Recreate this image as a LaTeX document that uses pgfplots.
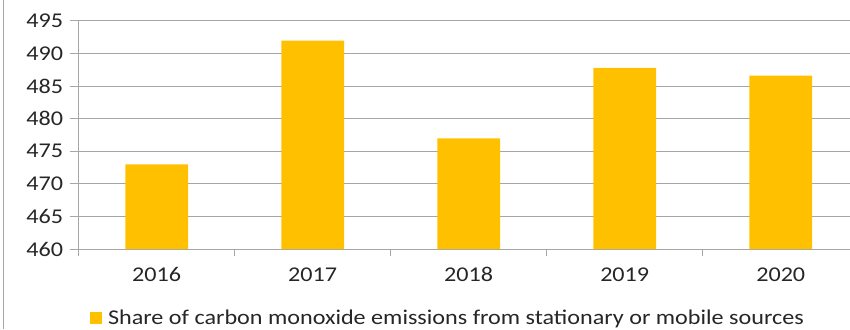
\documentclass[border=0pt]{standalone}
\usepackage{pgfplots}
\pgfplotsset{compat=1.18}
\usepackage{fontspec}
\setmainfont{Carlito}[FakeStretch=1.15]
\definecolor{barc}{HTML}{FFC000}
\definecolor{gridc}{HTML}{A6A6A6}
\definecolor{txt}{HTML}{262626}
\begin{document}
\begin{tikzpicture}[x=1pt,y=1pt]
\useasboundingbox (0,0) rectangle (850,329);
\draw[gridc, line width=1pt] (3,0) -- (3,329);
\begin{axis}[
 at={(78.7pt,80pt)}, anchor=south west,
 scale only axis, width=771.3pt, height=228pt,
 xmin=-0.5, xmax=4.444, ymin=460, ymax=495,
 ytick={460,465,...,495},
 xtick={0,1,2,3,4}, xticklabels={2016,2017,2018,2019,2020},
 minor xtick={-0.5,0.5,1.5,2.5,3.5,4.5},
 axis x line=bottom, axis y line=left,
 axis line style={-, gridc, line width=1pt},
 tick align=outside,
 major x tick style={draw=none},
 minor x tick style={gridc, line width=1pt},
 minor tick length=7pt,
 y tick style={gridc, line width=1pt},
 major tick length=9pt,
 ymajorgrids, grid style={gridc, line width=1pt},
 /pgf/number format/assume math mode=true,
 tick label style={font=\fontsize{21}{24}\selectfont, text=txt},
 yticklabel style={xshift=-3pt},
 xticklabel style={yshift=-6pt},
 legend style={at={(0.4788,-0.3026)}, anchor=center, draw=none, fill=none,
   font=\fontsize{21}{24}\selectfont, text=txt},
 legend image code/.code={\path (0pt,0pt) -- (16pt,0pt); \fill[barc] (0pt,-6pt) rectangle (12pt,6pt);},
]
\addplot[ybar, bar width=62.7pt, fill=barc, draw=none] coordinates {(0,473) (1,492) (2,477) (3,487.8) (4,486.6)};
\addlegendentry{Share of carbon monoxide emissions from stationary or mobile sources}
\end{axis}
\end{tikzpicture}
\end{document}
